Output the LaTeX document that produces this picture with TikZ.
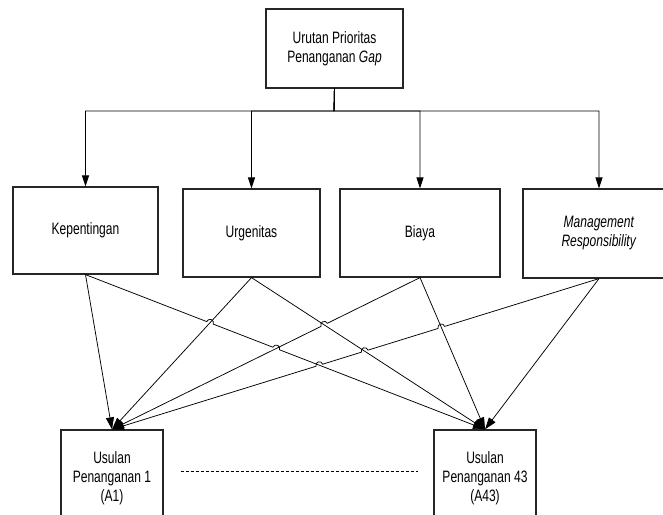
\documentclass[tikz,border=0pt]{standalone}
\usepackage{fontspec}
\setmainfont{Liberation Sans}[FakeStretch=0.73]
\usetikzlibrary{arrows.meta, calc, positioning}

\tikzset{
  txt/.style={align=center, font=\fontsize{16.5}{19}\selectfont},
  boxline/.style={draw=black!85, line width=1.2pt},
  box/.style={boxline, fill=white, inner sep=0pt, txt},
  usul/.style={box, minimum width=102, minimum height=96},
  tip/.style={-{Triangle[length=11pt,width=7pt]}},
  link/.style={line width=0.75pt, -{Triangle[length=12pt,width=8pt]}},
  rlink/.style={line width=0.75pt, {Triangle[length=12pt,width=8pt]}-},
}

\begin{document}
\begin{tikzpicture}[x=1pt, y=-1pt]
  \clip (0,0) rectangle (663,514);
  \fill[white] (0,0) rectangle (663,514);
  % top box
  \node[box, minimum width=137, minimum height=79] (top) at (334.5,48.5) {Urutan Prioritas\\Penanganan \textit{Gap}};
  % criteria
  \node[box, minimum width=145, minimum height=87] (kep) at (85.5,230.5) {Kepentingan};
  \node[box, minimum width=137, minimum height=88] (urg) at (251.5,233) {Urgenitas};
  \node[box, minimum width=160, minimum height=88] (bia) at (420,233) {Biaya};
  \node[box, minimum width=152, minimum height=89] (man) at (599,233.5) {\textit{Management}\\\textit{Responsibility}};
  % proposals (bottom cut off by the page)
  \node[usul] (a1) at (112,478) {Usulan\\Penanganan 1\\(A1)};
  \node[usul] (a43) at (485,478) {Usulan\\Penanganan 43\\(A43)};

  % tree
  \coordinate (bus) at (334,111);
  \foreach \n in {kep,urg,bia,man}
    \draw[tip, line width=0.9pt] (top.south) -- (bus) -| (\n.north);

  % crossings
  \coordinate (x1) at (intersection of kep.south--a43.north and urg.south--a1.north);
  \coordinate (x2) at (intersection of kep.south--a43.north and bia.south--a1.north);
  \coordinate (x3) at (intersection of kep.south--a43.north and man.south--a1.north);
  \coordinate (x4) at (intersection of urg.south--a43.north and bia.south--a1.north);
  \coordinate (x5) at (intersection of urg.south--a43.north and man.south--a1.north);
  \coordinate (x6) at (intersection of bia.south--a43.north and man.south--a1.north);

  \draw[link] (kep.south) -- (a1.north);
  \draw[link] (urg.south) -- (a1.north);
  \draw[link] (urg.south) -- (a43.north);
  \draw[link] (bia.south) -- (a43.north);
  \draw[link] (man.south) -- (a43.north);
  \draw[link] let \p1=($(a43.north)-(kep.south)$), \n1={atan2(\y1,\x1)} in
    (kep.south) -- ($(x1)!3.5pt!(kep.south)$)
    arc[start angle=\n1+180, end angle=\n1, radius=3.5pt]
    -- ($(x2)!3.5pt!(kep.south)$)
    arc[start angle=\n1+180, end angle=\n1, radius=3.5pt]
    -- (a43.north);
  \draw[rlink] let \p1=($(bia.south)-(a1.north)$), \n1={atan2(\y1,\x1)} in
    (a1.north) -- ($(x4)!3.5pt!(a1.north)$)
    arc[start angle=\n1+180, end angle=\n1, radius=3.5pt]
    -- (bia.south);
  \draw[rlink] let \p1=($(man.south)-(a1.north)$), \n1={atan2(\y1,\x1)} in
    (a1.north) -- ($(x3)!3.5pt!(a1.north)$)
    arc[start angle=\n1+180, end angle=\n1, radius=3.5pt]
    -- ($(x5)!3.5pt!(a1.north)$)
    arc[start angle=\n1+180, end angle=\n1, radius=3.5pt]
    -- ($(x6)!3.5pt!(a1.north)$)
    arc[start angle=\n1+180, end angle=\n1, radius=3.5pt]
    -- (man.south);

  % dots between proposals
  \draw[line width=0.6pt, dash pattern=on 3pt off 2pt, shorten <=17pt, shorten >=15pt]
    ([yshift=7pt]a1.east) -- ([yshift=7pt]a43.west);
\end{tikzpicture}
\end{document}
